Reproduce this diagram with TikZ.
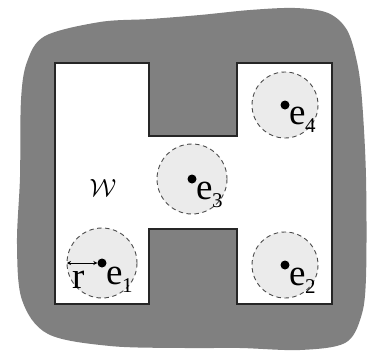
\documentclass[tikz,border=0pt]{standalone}
\usepackage{fontspec}
\usepackage{amsmath}
\newfontfamily\labfont{Liberation Serif}
\usetikzlibrary{arrows.meta}
\newcommand{\esub}[1]{e\kern-0.5pt\raisebox{-8pt}{\fontsize{21}{21}\selectfont #1}}
\begin{document}
\begin{tikzpicture}[x=1pt,y=-1pt,
  blob/.style={fill=black!50, draw=none},
  region/.style={fill=white, draw=black!85, line width=1.7pt, line join=miter},
  disk/.style={fill=black!8, draw=black!70, line width=0.9pt, dash pattern=on 4.5pt off 3.5pt},
  centre/.style={circle, fill=black, inner sep=0pt, minimum size=9pt},
  lab/.style={anchor=base west, inner sep=0pt, font=\labfont\fontsize{37}{37}\selectfont},
  radius/.style={{Stealth[length=4pt,width=4pt]}-{Stealth[length=4pt,width=4pt]}, line width=0.8pt}]
\useasboundingbox (0,0) rectangle (370,354);
% gray environment
\path[blob] plot[smooth cycle, tension=0.55] coordinates {
  (21,100) (27,62) (45,36) (100,22) (150,19) (200,15) (250,10) (295,8)
  (328,13) (347,30) (357,62) (362,100) (366,177) (366,277) (361,317) (345,343)
  (300,350) (240,348) (185,348) (110,346) (48,334) (22,300) (17,244) (20,177)};
% H shaped free space
\draw[region] (55,63) -- (149,63) -- (149,136) -- (237,136) -- (237,63)
  -- (332,63) -- (332,304) -- (237,304) -- (237,229) -- (149,229)
  -- (149,304) -- (55,304) -- cycle;
% disks
\coordinate (c1) at (102,263);
\coordinate (c2) at (285,265);
\coordinate (c3) at (192,179);
\coordinate (c4) at (285,105);
\draw[disk] (c1) circle (35);
\draw[disk] (c2) circle (33);
\draw[disk] (c3) circle (35);
\draw[disk] (c4) circle (33);
\node[centre] (d1) at (c1) {};
\node[centre] (d2) at (c2) {};
\node[centre] (d3) at (c3) {};
\node[centre] (d4) at (c4) {};
\node[lab] (l1) at (106,284) {\esub{1}};
\node[lab] (l2) at (289,285) {\esub{2}};
\node[lab] (l3) at (196,199) {\esub{3}};
\node[lab] (l4) at (289,124) {\esub{4}};
% radius
\coordinate (redge) at (67,263);
\draw[radius] (redge) -- (d1.west);
\node[lab] (r) at (72,288) {r};
% workspace label
\node[inner sep=0pt, font=\fontsize{29}{29}\selectfont] (W) at (103,188) {$\mathcal{W}$};
\end{tikzpicture}
\end{document}
